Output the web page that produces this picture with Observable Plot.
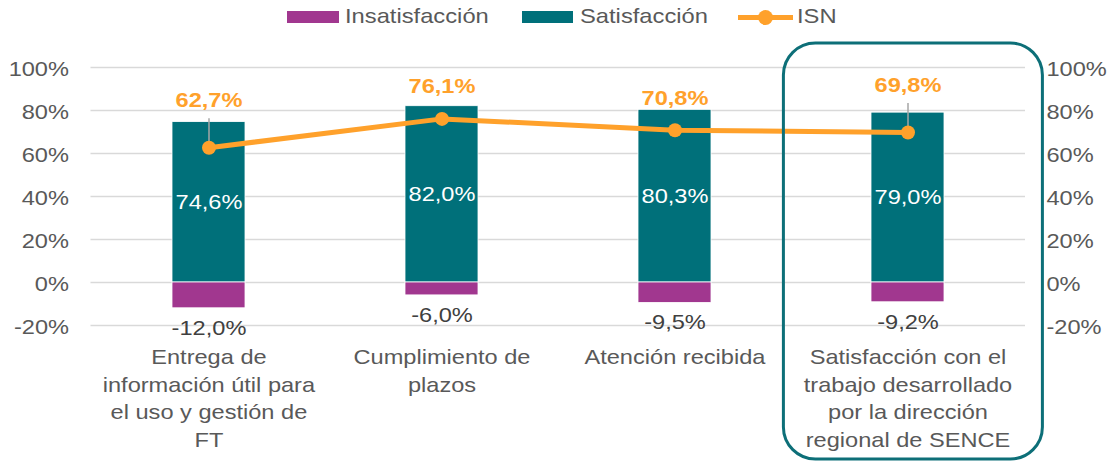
<!DOCTYPE html>
<html><head><meta charset="utf-8">
<script src="https://cdn.jsdelivr.net/npm/d3@7"></script>
<script src="https://cdn.jsdelivr.net/npm/@observablehq/plot@0.6"></script>
<style>
body{margin:0;background:#fff;font-family:"Liberation Sans",Arial,sans-serif;}
#legend{position:relative;width:1112px;height:34px;}
#legend .sw{position:absolute;}
#legend .t{position:absolute;font-size:21px;line-height:21px;color:#595959;transform:scaleX(1.13);transform-origin:0 0;white-space:nowrap;}
#chart svg{display:block;}
</style></head><body>
<div id="legend"></div>
<div id="chart"></div>
<script>
// ---- data ----
const categories = [
  "Entrega de información útil para el uso y gestión de FT",
  "Cumplimiento de plazos",
  "Atención recibida",
  "Satisfacción con el trabajo desarrollado por la dirección regional de SENCE"
];
const tickLabels = [
  "Entrega de\ninformación útil para\nel uso y gestión de\nFT",
  "Cumplimiento de\nplazos",
  "Atención recibida",
  "Satisfacción con el\ntrabajo desarrollado\npor la dirección\nregional de SENCE"
];
const satisfaccion = [74.6, 82.0, 80.3, 79.0];
const insatisfaccion = [-12.0, -6.0, -9.5, -9.2];
const isn = [62.7, 76.1, 70.8, 69.8];
const yTicks = [-20, 0, 20, 40, 60, 80, 100];
const seriesNames = ["Insatisfacción", "Satisfacción", "ISN"];

// ---- style ----
const TEAL = "#00707a", PURPLE = "#a1378f", ORANGE = "#ffa12b", GRID = "#d9d9d9", TXT = "#595959";
const highlighted = categories[3];
const withLeader = new Set([categories[0], categories[3]]);
const fmt = v => v.toFixed(1).replace(".", ",") + "%";

const rows = categories.map((c, i) => ({cat: c, sat: satisfaccion[i], ins: insatisfaccion[i], isn: isn[i]}));

// ---- legend (HTML, above the SVG) ----
const legend = document.getElementById("legend");
legend.innerHTML = `
  <div class="sw" style="left:287px;top:11px;width:52px;height:12px;background:${PURPLE}"></div>
  <div class="t" style="left:345px;top:5px">${seriesNames[0]}</div>
  <div class="sw" style="left:522px;top:11px;width:51px;height:12px;background:${TEAL}"></div>
  <div class="t" style="left:580px;top:5px">${seriesNames[1]}</div>
  <div class="sw" style="left:738px;top:15px;width:55px;height:5px;background:${ORANGE}"></div>
  <div class="sw" style="left:758px;top:10px;width:15px;height:15px;border-radius:50%;background:${ORANGE}"></div>
  <div class="t" style="left:797px;top:5px">${seriesNames[2]}</div>
`;

const yDomain = [yTicks[0], yTicks[yTicks.length - 1]];

const chart = Plot.plot({
  width: 1112,
  height: 427,
  marginTop: 33,
  marginBottom: 136,
  marginLeft: 90.5,
  marginRight: 87,
  style: {fontFamily: "'Liberation Sans', Arial, sans-serif", fontSize: "20px", color: TXT, background: "white", overflow: "visible"},
  x: {domain: categories, paddingInner: 0.688, paddingOuter: 0.344, label: null},
  y: {domain: yDomain, label: null},
  marks: [
    Plot.gridY(yTicks, {stroke: GRID, strokeOpacity: 1, strokeWidth: 1.5}),
    Plot.barY(rows, {x: "cat", y: "sat", fill: TEAL, stroke: "white", strokeWidth: 0.8}),
    Plot.barY(rows, {x: "cat", y: "ins", fill: PURPLE, stroke: "white", strokeWidth: 0.8}),
    Plot.text(rows, {x: "cat", y: d => d.sat / 2, text: d => fmt(d.sat), fill: "white", fontSize: 20}),
    Plot.text(rows, {x: "cat", y: "ins", text: d => fmt(d.ins), fill: "#404040", fontSize: 20, dy: 20}),
    Plot.ruleX(rows.filter(d => withLeader.has(d.cat)), {x: "cat", y1: "isn", y2: "isn", insetTop: -29, stroke: "#a6a6a6", strokeWidth: 1.5}),
    Plot.line(rows, {x: "cat", y: "isn", stroke: ORANGE, strokeWidth: 5}),
    Plot.dot(rows, {x: "cat", y: "isn", r: 7, fill: ORANGE, stroke: "none"}),
    Plot.text(rows.filter(d => withLeader.has(d.cat)), {x: "cat", y: "isn", text: d => fmt(d.isn), fill: ORANGE, fontWeight: "bold", fontSize: 20, dy: -47}),
    Plot.text(rows.filter(d => !withLeader.has(d.cat)), {x: "cat", y: "isn", text: d => fmt(d.isn), fill: ORANGE, fontWeight: "bold", fontSize: 20, dy: -32}),
    Plot.barY([highlighted], {x: d => d, y1: () => yDomain[0], y2: () => yDomain[1], fill: "none", stroke: "#0d6f78", strokeWidth: 3, rx: 32, ry: 32,
      insetLeft: -87.6, insetRight: -98.4, insetTop: -24, insetBottom: -134}),
    Plot.axisY(yTicks, {anchor: "left", tickSize: 0, tickPadding: 22, tickFormat: d => d + "%", fontSize: 20, fill: TXT, dy: 2, label: null}),
    Plot.axisY(yTicks, {anchor: "right", tickSize: 0, tickPadding: 21, tickFormat: d => d + "%", fontSize: 20, fill: TXT, dy: 2, label: null}),
    Plot.axisX({tickSize: 0, tickPadding: 19, tickFormat: d => tickLabels[categories.indexOf(d)], fontSize: 20, lineHeight: 1.375, fill: TXT, label: null})
  ]
});

document.getElementById("chart").append(chart);

// widen glyphs horizontally around each text's anchor to match the reference's wide lettering
const SX = 1.18;
chart.querySelectorAll("text").forEach(el => {
  const b = el.getBBox();
  const anchor = getComputedStyle(el).textAnchor;
  const ax = anchor === "middle" ? b.x + b.width / 2 : anchor === "end" ? b.x + b.width : b.x;
  const t = el.getAttribute("transform") || "";
  el.setAttribute("transform", `${t} translate(${ax},0) scale(${SX},1) translate(${-ax},0)`.trim());
});
</script>
</body></html>
